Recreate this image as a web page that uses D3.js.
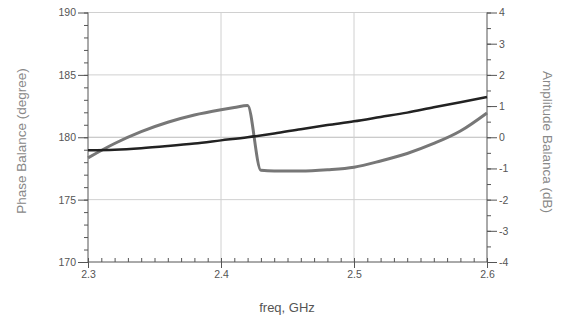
<!DOCTYPE html>
<html><head><meta charset="utf-8">
<script src="https://cdn.jsdelivr.net/npm/d3@7"></script>
<style>body{margin:0;background:#fff}svg{display:block}text{font-family:"Liberation Sans",Arial,sans-serif}</style>
</head><body><svg id="c" width="566" height="322"></svg>
<script>
const freq = [2.30,2.32,2.34,2.36,2.38,2.40,2.41,2.42,2.43,2.44,2.46,2.48,2.50,2.52,2.54,2.56,2.58,2.60];
const phaseBalance = [178.35,179.5,180.45,181.2,181.78,182.2,182.38,182.55,177.35,177.3,177.3,177.4,177.6,178.1,178.7,179.5,180.5,181.95];
const ampFreq = [2.30,2.32,2.34,2.36,2.38,2.40,2.42,2.44,2.46,2.48,2.50,2.52,2.54,2.56,2.58,2.60];
const ampBalance = [-0.42,-0.40,-0.35,-0.28,-0.2,-0.1,0.0,0.12,0.26,0.39,0.51,0.65,0.79,0.96,1.12,1.29];
const xTicks = [2.3,2.4,2.5,2.6];
const leftTicks = [170,175,180,185,190];
const rightTicks = [-4,-3,-2,-1,0,1,2,3,4];

const svg = d3.select("#c");
const x = d3.scaleLinear().domain([2.3,2.6]).range([88,487]);
const yL = d3.scaleLinear().domain([170,190]).range([262,12.5]);
const yR = d3.scaleLinear().domain([-4,4]).range([262,12.5]);

// grid
const g = svg.append("g");
g.selectAll(".gh").data([175,180,185,190]).join("line")
 .attr("x1",88).attr("x2",487).attr("y1",d=>yL(d)).attr("y2",d=>yL(d))
 .attr("stroke",d=>d===180?"#bbb":"#d0d0d0").attr("stroke-width",1);
g.selectAll(".gv").data([2.4,2.5]).join("line")
 .attr("y1",12.5).attr("y2",262).attr("x1",d=>x(d)).attr("x2",d=>x(d))
 .attr("stroke","#d0d0d0").attr("stroke-width",1);

const axCol = "#555";
// left axis
const la = svg.append("g").attr("transform","translate(88,0)")
 .call(d3.axisLeft(yL).tickValues(d3.range(170,190.1,1)).tickSize(4).tickFormat(""));
la.call(s=>s.selectAll("line,path").attr("stroke",axCol));
la.select(".domain").attr("d","M0,12.5V262");
const la2 = svg.append("g").attr("transform","translate(88,0)")
 .call(d3.axisLeft(yL).tickValues(leftTicks).tickSize(10).tickPadding(2));
la2.select(".domain").remove();
la2.selectAll("line").attr("stroke",axCol);
la2.selectAll("text").attr("fill","#555").style("font-size","10.5px");

// right axis
const ra = svg.append("g").attr("transform","translate(487,0)")
 .call(d3.axisRight(yR).tickValues(d3.range(-4,4.01,0.5)).tickSize(4).tickFormat(""));
ra.call(s=>s.selectAll("line,path").attr("stroke",axCol));
ra.select(".domain").attr("d","M0,12.5V262");
const ra2 = svg.append("g").attr("transform","translate(487,0)")
 .call(d3.axisRight(yR).tickValues(rightTicks).tickSize(10).tickPadding(2).tickFormat(d=>String(d)));
ra2.select(".domain").remove();
ra2.selectAll("line").attr("stroke",axCol);
ra2.selectAll("text").attr("fill","#555").style("font-size","10.5px");

// bottom axis
const ba = svg.append("g").attr("transform","translate(0,262)")
 .call(d3.axisTop(x).tickValues(d3.range(2.3,2.6001,0.01)).tickSize(4).tickFormat(""));
ba.call(s=>s.selectAll("line,path").attr("stroke",axCol));
ba.select(".domain").attr("d","M88,0H487");
const ba2 = svg.append("g").attr("transform","translate(0,262)")
 .call(d3.axisBottom(x).tickValues(xTicks).tickSize(6).tickPadding(3).tickFormat(d3.format(".1f")));
ba2.select(".domain").remove();
ba2.selectAll("line").attr("stroke",axCol);
ba2.selectAll("text").attr("fill","#555").style("font-size","10.5px");

// lines
svg.append("path").datum(phaseBalance.map((v,i)=>[freq[i],v]))
 .attr("fill","none").attr("stroke","#777").attr("stroke-width",3).attr("stroke-linejoin","round")
 .attr("d",d3.line().x(d=>x(d[0])).y(d=>yL(d[1])).curve(d3.curveMonotoneX));
svg.append("path").datum(ampBalance.map((v,i)=>[ampFreq[i],v]))
 .attr("fill","none").attr("stroke","#222").attr("stroke-width",2.5)
 .attr("d",d3.line().x(d=>x(d[0])).y(d=>yR(d[1])).curve(d3.curveMonotoneX));

// titles
svg.append("text").attr("transform","translate(26,141) rotate(-90)").attr("text-anchor","middle")
 .attr("fill","#888").style("font-size","13.5px").text("Phase Balance (degree)");
svg.append("text").attr("transform","translate(543,142) rotate(90)").attr("text-anchor","middle")
 .attr("fill","#888").style("font-size","13.5px").text("Amplitude Balanca (dB)");
svg.append("text").attr("x",287).attr("y",312).attr("text-anchor","middle")
 .attr("fill","#555").style("font-size","13px").text("freq, GHz");
</script></body></html>
